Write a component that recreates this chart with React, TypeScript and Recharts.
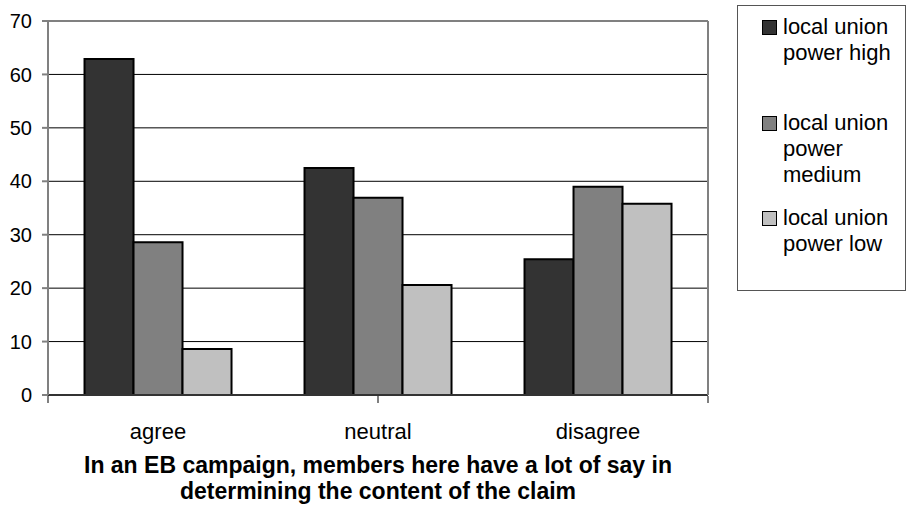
import React from 'react';
import {
  BarChart,
  Bar,
  XAxis,
  YAxis,
  CartesianGrid,
  ReferenceLine,
} from 'recharts';

// Share of members (%) by answer, split by local union power
const categories = ['agree', 'neutral', 'disagree'];
const highValues = [62.9, 42.5, 25.4];
const mediumValues = [28.6, 36.9, 39.0];
const lowValues = [8.6, 20.6, 35.8];

const seriesKeys = ['high', 'medium', 'low'];
const seriesNames = ['local union power high', 'local union power medium', 'local union power low'];
const seriesColors = ['#333333', '#808080', '#c0c0c0'];

const yTicks = [0, 10, 20, 30, 40, 50, 60, 70];
const boundaryTicks = [0, 1, 2, 3];
const titleLines = [
  'In an EB campaign, members here have a lot of say in',
  'determining the content of the claim',
];

const data = categories.map((category, i) => ({
  category,
  high: highValues[i],
  medium: mediumValues[i],
  low: lowValues[i],
}));

const FONT = '"Liberation Sans", Arial, sans-serif';

const CategoryTick = (props: any) => {
  const { x, y, payload } = props;
  return (
    <text x={x} y={y} dy={44} textAnchor="middle" fontSize={22} fill="#000">
      {payload.value}
    </text>
  );
};

const NoTick = () => <g />;

const Legend: React.FC = () => (
  <div
    style={{
      position: 'absolute',
      left: 737,
      top: 5,
      width: 169,
      height: 286,
      border: '1.5px solid #555',
      boxSizing: 'border-box',
    }}
  >
    {seriesNames.map((name, i) => (
      <div
        key={name}
        style={{
          position: 'absolute',
          left: 24,
          top: 8 + i * 95.5,
          display: 'flex',
          alignItems: 'flex-start',
        }}
      >
        <div
          style={{
            width: 13,
            height: 13,
            marginTop: 6,
            marginRight: 6,
            background: seriesColors[i],
            border: '1.5px solid #000',
            flexShrink: 0,
          }}
        />
        <div style={{ width: 122, fontSize: 22, lineHeight: '26px', color: '#000' }}>{name}</div>
      </div>
    ))}
  </div>
);

const App: React.FC = () => {
  return (
    <div
      style={{
        position: 'absolute',
        left: 0,
        top: 0,
        width: 909,
        height: 506,
        background: '#fff',
        fontFamily: FONT,
      }}
    >
      <BarChart
        width={909}
        height={506}
        data={data}
        margin={{ top: 21, right: 200, bottom: 109, left: 0 }}
        barCategoryGap="16.6%"
        barGap={0}
      >
        <CartesianGrid vertical={false} stroke="#000" strokeWidth={1} />
        <XAxis
          dataKey="category"
          height={1}
          tickLine={false}
          tickSize={0}
          tickMargin={0}
          axisLine={{ stroke: '#333', strokeWidth: 2 }}
          tick={CategoryTick}
          interval={0}
        />
        <XAxis
          xAxisId="edge"
          type="number"
          domain={[0, 3]}
          ticks={boundaryTicks}
          height={1}
          axisLine={false}
          tickSize={7}
          tickLine={{ stroke: '#808080', strokeWidth: 2 }}
          tick={NoTick}
        />
        <YAxis
          width={48}
          domain={[0, 70]}
          ticks={yTicks}
          interval={0}
          tickSize={6}
          tickMargin={10}
          axisLine={{ stroke: '#808080', strokeWidth: 2 }}
          tickLine={{ stroke: '#808080', strokeWidth: 2 }}
          tick={{ fontSize: 20, fill: '#000' }}
        />
        <YAxis
          yAxisId="right"
          orientation="right"
          width={1}
          domain={[0, 70]}
          tick={false}
          tickLine={false}
          axisLine={{ stroke: '#808080', strokeWidth: 2 }}
        />
        <ReferenceLine y={70} stroke="#808080" strokeWidth={2} />
        {seriesKeys.map((key, i) => (
          <Bar
            key={key}
            dataKey={key}
            name={seriesNames[i]}
            fill={seriesColors[i]}
            stroke="#000"
            strokeWidth={2}
            isAnimationActive={false}
          />
        ))}
      </BarChart>
      <div
        style={{
          position: 'absolute',
          left: 48,
          top: 452,
          width: 660,
          textAlign: 'center',
          fontSize: 23,
          fontWeight: 'bold',
          lineHeight: '26px',
          color: '#000',
        }}
      >
        {titleLines.map((line) => (
          <div key={line}>{line}</div>
        ))}
      </div>
      <Legend />
    </div>
  );
};

export default App;
